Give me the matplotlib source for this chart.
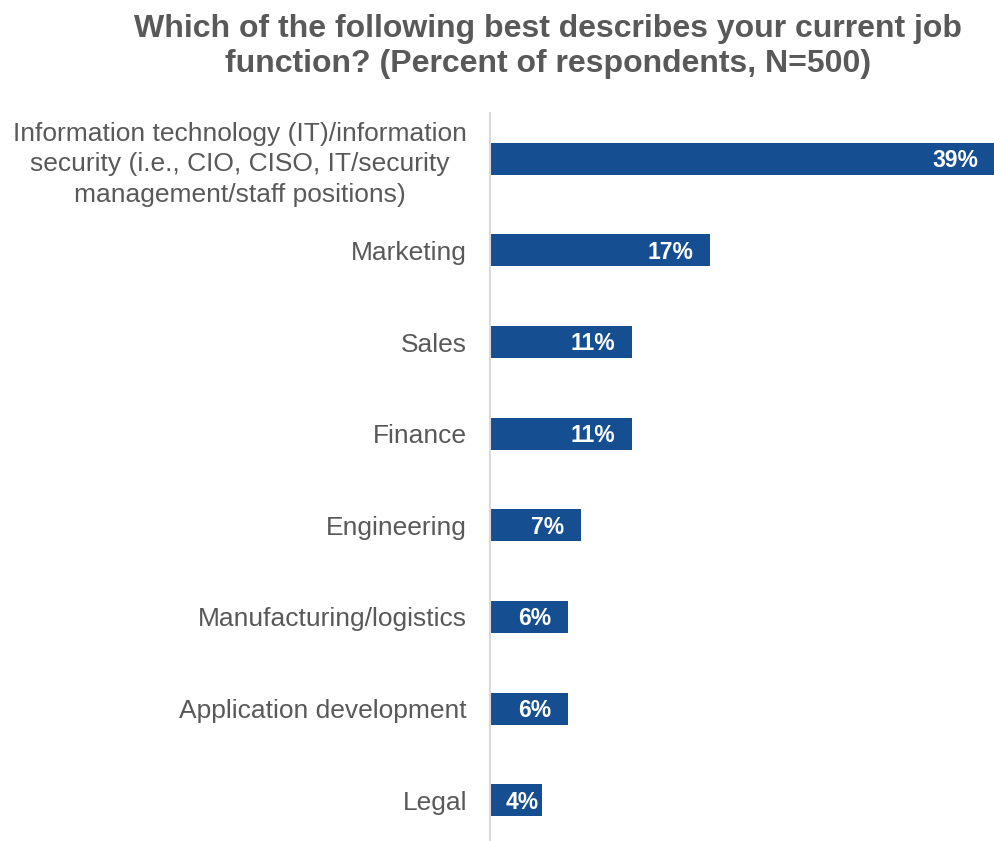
import matplotlib.pyplot as plt

plt.rcParams['font.family'] = ['Liberation Sans', 'DejaVu Sans']

categories = [
    'Information technology (IT)/information\nsecurity (i.e., CIO, CISO, IT/security\nmanagement/staff positions)',
    'Marketing',
    'Sales',
    'Finance',
    'Engineering',
    'Manufacturing/logistics',
    'Application development',
    'Legal',
]
values = [39, 17, 11, 11, 7, 6, 6, 4]

bar_color = '#154F91'
text_color = '#595959'

fig = plt.figure(figsize=(9.95, 8.41), dpi=100)
ax = fig.add_axes([490 / 995, -5 / 841, 505 / 995, 733 / 841])

pos = list(range(len(values)))
ax.barh(pos, values, height=0.35, color=bar_color)
ax.set_ylim(len(values) - 0.5, -0.5)
ax.set_xlim(0, 39)

# value labels sit inside the bar end; short bars keep a minimum offset
for y, v in zip(pos, values):
    ax.text(max(v - 1.3, 3.75), y + 0.02, f'{v}%', ha='right', va='center', color='white',
            fontsize=16.5, fontweight='bold')

ax.set_yticks(pos)
ax.set_yticklabels(categories, fontsize=19, color=text_color, linespacing=1.33)
for lab in ax.get_yticklabels():
    lab.set_multialignment('center')
ax.tick_params(axis='y', length=0, pad=16.5)
ax.set_xticks([])
for s in ['top', 'right', 'bottom']:
    ax.spines[s].set_visible(False)
ax.spines['left'].set_color('#D9D9D9')
ax.spines['left'].set_linewidth(1.5)

fig.text(548 / 995, 1 - 46.5 / 841,
         'Which of the following best describes your current job\nfunction? (Percent of respondents, N=500)',
         ha='center', va='center', fontsize=23, fontweight='bold', color=text_color,
         linespacing=1.2)

fig.savefig('out.png', dpi=100)
